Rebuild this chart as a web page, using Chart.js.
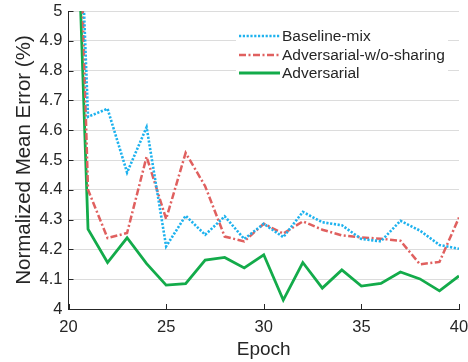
<!DOCTYPE html>
<html>
<head>
<meta charset="utf-8">
<script src="https://cdn.jsdelivr.net/npm/chart.js@4.4.1/dist/chart.umd.min.js"></script>
<style>
  html, body { margin: 0; padding: 0; background: #fff; }
  #wrap { width: 468px; height: 362px; }
</style>
</head>
<body>
<div id="wrap"><canvas id="errChart" width="468" height="362"></canvas></div>
<script>
// Data
var epochs = [20, 21, 22, 23, 24, 25, 26, 27, 28, 29, 30, 31, 32, 33, 34, 35, 36, 37, 38, 39, 40];
var baselineMix = [6.37, 4.645, 4.672, 4.458, 4.610, 4.210, 4.313, 4.249, 4.311, 4.235, 4.286, 4.241, 4.326, 4.291, 4.281, 4.235, 4.227, 4.296, 4.263, 4.215, 4.202];
var advNoSharing = [6.61, 4.400, 4.238, 4.255, 4.511, 4.302, 4.524, 4.412, 4.243, 4.227, 4.286, 4.253, 4.294, 4.266, 4.247, 4.240, 4.236, 4.229, 4.150, 4.158, 4.307];
var adversarial = [6.22, 4.268, 4.156, 4.239, 4.152, 4.080, 4.085, 4.164, 4.173, 4.138, 4.182, 4.030, 4.156, 4.070, 4.131, 4.077, 4.086, 4.124, 4.101, 4.061, 4.111];
var seriesNames = ['Baseline-mix', 'Adversarial-w/o-sharing', 'Adversarial'];
var xTicks = [20, 25, 30, 35, 40];
var yTicks = [4, 4.1, 4.2, 4.3, 4.4, 4.5, 4.6, 4.7, 4.8, 4.9, 5];

var FONT = "'Liberation Sans', Arial, Helvetica, sans-serif";
var INK = '#262626';

function toPoints(vals) {
    return epochs.map(function (e, i) { return { x: e, y: vals[i] }; });
}

// MATLAB-style inward ticks + legend box inside the axes
var matlabDecor = {
    id: 'matlabDecor',
    afterDatasetsDraw: function (chart) {
        var ctx = chart.ctx;
        var xs = chart.scales.x, ys = chart.scales.y;
        var area = chart.chartArea;
        ctx.save();
        ctx.strokeStyle = INK;
        ctx.lineWidth = 1;
        ctx.setLineDash([]);
        xTicks.forEach(function (t) {
            var px = Math.round(xs.getPixelForValue(t)) + 0.5;
            ctx.beginPath();
            ctx.moveTo(px, area.bottom);
            ctx.lineTo(px, area.bottom - 5);
            ctx.stroke();
        });
        yTicks.forEach(function (t) {
            var py = Math.round(ys.getPixelForValue(t)) + 0.5;
            ctx.beginPath();
            ctx.moveTo(area.left, py);
            ctx.lineTo(area.left + 5, py);
            ctx.stroke();
        });

        // legend
        ctx.fillStyle = '#fff';
        ctx.fillRect(236, 22, 212, 62);
        var rows = [36, 55, 73];
        chart.data.datasets.forEach(function (ds, i) {
            ctx.strokeStyle = ds.borderColor;
            ctx.lineWidth = ds.borderWidth;
            ctx.setLineDash(ds.borderDash || []);
            ctx.beginPath();
            ctx.moveTo(239, rows[i]);
            ctx.lineTo(280, rows[i]);
            ctx.stroke();
            ctx.setLineDash([]);
            ctx.fillStyle = INK;
            ctx.font = '15.5px ' + FONT;
            ctx.textBaseline = 'middle';
            ctx.textAlign = 'left';
            ctx.fillText(ds.label, 282, rows[i] + 1);
        });
        ctx.restore();
    }
};

var errChart = new Chart(document.getElementById('errChart'), {
    type: 'line',
    data: {
        datasets: [{
            label: seriesNames[0],
            data: toPoints(baselineMix),
            borderColor: '#1eb2ee',
            borderWidth: 2.6,
            borderDash: [2.2, 1.6],
            pointRadius: 0,
            tension: 0,
            fill: false
        }, {
            label: seriesNames[1],
            data: toPoints(advNoSharing),
            borderColor: '#e0605f',
            borderWidth: 2.5,
            borderDash: [7, 2.5, 2, 2.5],
            pointRadius: 0,
            tension: 0,
            fill: false
        }, {
            label: seriesNames[2],
            data: toPoints(adversarial),
            borderColor: '#13ab4a',
            borderWidth: 2.8,
            pointRadius: 0,
            tension: 0,
            fill: false
        }]
    },
    options: {
        responsive: false,
        animation: false,
        events: [],
        layout: { padding: { left: 0, right: 9, top: 11, bottom: 0 } },
        plugins: {
            legend: { display: false },
            tooltip: { enabled: false }
        },
        scales: {
            x: {
                type: 'linear',
                min: 20,
                max: 40,
                afterFit: function (scale) {
                    scale.height = 53;
                    scale.paddingLeft = 0;
                    scale.paddingRight = 0;
                },
                afterBuildTicks: function (scale) {
                    scale.ticks = xTicks.map(function (v) { return { value: v }; });
                },
                grid: { display: false, drawTicks: false },
                border: { color: INK, width: 1 },
                ticks: {
                    color: INK,
                    padding: 9,
                    maxRotation: 0,
                    font: { family: FONT, size: 16.5 }
                },
                title: {
                    display: true,
                    text: 'Epoch',
                    color: INK,
                    padding: { top: 0, bottom: 1 },
                    font: { family: FONT, size: 19 }
                }
            },
            y: {
                min: 4,
                max: 5,
                afterFit: function (scale) {
                    scale.width = 68.5;
                    scale.paddingTop = 0;
                    scale.paddingBottom = 0;
                },
                afterBuildTicks: function (scale) {
                    scale.ticks = yTicks.map(function (v) { return { value: v }; });
                },
                grid: { color: '#dcdcdc', lineWidth: 1, drawTicks: false },
                border: { color: INK, width: 1 },
                ticks: {
                    color: INK,
                    padding: 6,
                    font: { family: FONT, size: 16.5 },
                    callback: function (v) { return String(Number(v.toFixed(1))); }
                },
                title: {
                    display: true,
                    text: 'Normalized Mean Error (%)',
                    color: INK,
                    padding: { top: 12, bottom: 0 },
                    font: { family: FONT, size: 20.5 }
                }
            }
        }
    },
    plugins: [matlabDecor]
});
</script>
</body>
</html>
